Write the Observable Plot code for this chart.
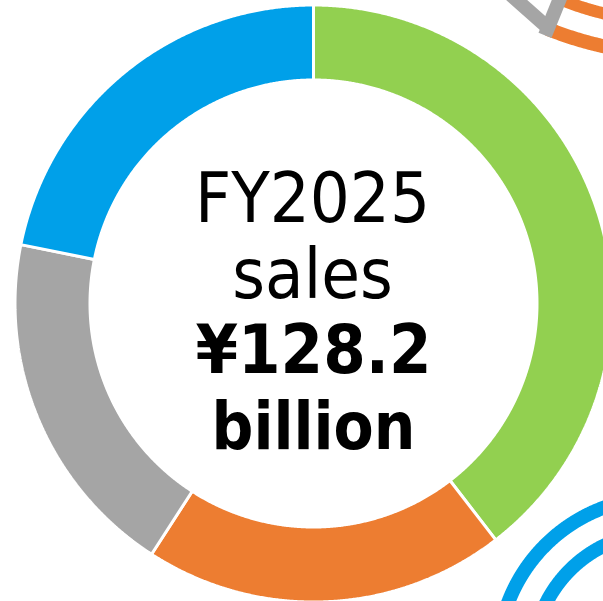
<!DOCTYPE html>
<html>
<head>
<meta charset="utf-8">
<script src="https://cdn.jsdelivr.net/npm/d3@7"></script>
<script src="https://cdn.jsdelivr.net/npm/@observablehq/plot@0.6"></script>
<style>
  html, body { margin: 0; padding: 0; background: #fff; overflow: hidden; }
  #chart svg { display: block; }
</style>
</head>
<body>
<div id="chart"></div>
<script>
// ---- data ----
const segments = ["Segment 1", "Segment 2", "Segment 3", "Segment 4"];
const sales = [50.7, 25.1, 24.4, 28.0];            // ¥ billion, clockwise from top
const segmentColors = ["#92D050", "#ED7D31", "#A5A5A5", "#00A0E9"];
const titleLines = ["FY2025", "sales"];
const amountLines = ["¥128.2", "billion"];

// ---- layout ----
const W = 603, H = 601;
const cx = 313, cy = 303, rOuter = 298.5, rInner = 223.5;

const rad = a => a * Math.PI / 180;
const polar = (ox, oy, r, a) => ({x: ox + r * Math.sin(rad(a)), y: oy - r * Math.cos(rad(a))});

function ringPoints(ox, oy, r0, r1, a0, a1, key) {
  const pts = [];
  const n = Math.max(2, Math.ceil(Math.abs(a1 - a0) / 0.25));
  for (let i = 0; i <= n; i++) pts.push({...polar(ox, oy, r1, a0 + (a1 - a0) * i / n), key});
  for (let i = n; i >= 0; i--) pts.push({...polar(ox, oy, r0, a0 + (a1 - a0) * i / n), key});
  return pts;
}
function arcPoints(ox, oy, r, a0, a1) {
  const pts = [];
  const n = Math.max(2, Math.ceil(Math.abs(a1 - a0) / 0.25));
  for (let i = 0; i <= n; i++) pts.push(polar(ox, oy, r, a0 + (a1 - a0) * i / n));
  return pts;
}

const total = d3.sum(sales);
const angleScale = d3.scaleLinear().domain([0, total]).range([0, 360]);
const cum = d3.cumsum(sales);
const slices = sales.map((v, i) => ringPoints(cx, cy, rInner, rOuter, angleScale(cum[i] - v), angleScale(cum[i]), segments[i]));

// decorative neighbouring graphics (cut off at the corners)
const decoTR = {ox: 679, oy: -298};
const decoBR = {ox: 660, oy: 660};

const marks = [];
slices.forEach((pts, i) => {
  marks.push(Plot.line(pts, {x: "x", y: "y", fill: segmentColors[i], stroke: "white", strokeWidth: 3,
    strokeLinejoin: "miter", curve: "linear-closed"}));
});

// top-right rings
marks.push(Plot.line(arcPoints(decoTR.ox, decoTR.oy, 352, 160, 202), {x: "x", y: "y", stroke: "#ED7D31", strokeWidth: 14, strokeLinecap: "butt", clip: true}));
marks.push(Plot.line(arcPoints(decoTR.ox, decoTR.oy, 320, 160, 202), {x: "x", y: "y", stroke: "#ED7D31", strokeWidth: 12, strokeLinecap: "butt", clip: true}));
marks.push(Plot.line([polar(decoTR.ox, decoTR.oy, 352, 201.5), polar(decoTR.ox, decoTR.oy, 335, 212.3)], {x: "x", y: "y", stroke: "#A5A5A5", strokeWidth: 14, strokeLinecap: "butt", clip: true}));
marks.push(Plot.line([polar(decoTR.ox, decoTR.oy, 359, 202), polar(decoTR.ox, decoTR.oy, 300, 202)], {x: "x", y: "y", stroke: "#A5A5A5", strokeWidth: 14, strokeLinecap: "butt", clip: true}));
// bottom-right rings
marks.push(Plot.line(arcPoints(decoBR.ox, decoBR.oy, 163, 250, 370), {x: "x", y: "y", stroke: "#00A0E9", strokeWidth: 14, strokeLinecap: "butt", clip: true}));
marks.push(Plot.line(arcPoints(decoBR.ox, decoBR.oy, 128, 250, 370), {x: "x", y: "y", stroke: "#00A0E9", strokeWidth: 14, strokeLinecap: "butt", clip: true}));

// centre text
const gap = 75.5;
const baselines = [0, 1, 2, 3].map(i => cy + 32 + (i - 1.5) * gap);
marks.push(Plot.text(titleLines.map((t, i) => ({t, x: cx - 1, y: baselines[i]})),
  {x: "x", y: "y", text: "t", fontSize: 70, fontWeight: 400, lineAnchor: "bottom", fill: "black"}));
marks.push(Plot.text(amountLines.map((t, i) => ({t, x: cx, y: baselines[i + 2], s: i === 0 ? 68 : 65})),
  {x: "x", y: "y", text: "t", fontSize: "s", fontWeight: 700, lineAnchor: "bottom", fill: "black"}));

const chart = Plot.plot({
  width: W, height: H, margin: 0,
  x: {domain: [0, W], range: [0, W], axis: null},
  y: {domain: [0, H], range: [0, H], axis: null},
  style: {background: "white", fontFamily: "'DejaVu Sans Condensed', 'DejaVu Sans', sans-serif", fontStretch: "condensed", overflow: "hidden"},
  marks
});
document.getElementById("chart").appendChild(chart);
</script>
</body>
</html>
